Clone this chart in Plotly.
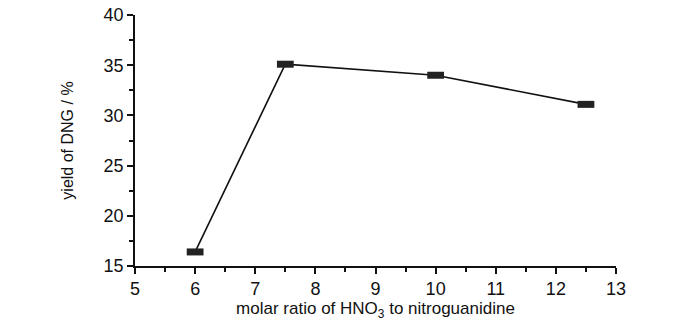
import plotly.graph_objects as go

molar_ratio = [6, 7.5, 10, 12.5]
yield_dng = [16.4, 35.1, 34.0, 31.1]

x_title = "molar ratio of HNO<sub>3</sub> to nitroguanidine"
y_title = "yield of DNG / %"

fig = go.Figure()
fig.add_trace(go.Scatter(
    x=molar_ratio, y=yield_dng, mode="lines",
    line=dict(color="#111111", width=1.6), showlegend=False, hoverinfo="skip"))
fig.add_trace(go.Scatter(
    x=molar_ratio, y=yield_dng, mode="markers",
    marker=dict(symbol="line-ew", size=12, line=dict(color="#222222", width=7)),
    showlegend=False))

font = dict(family="Liberation Sans, Arial, sans-serif", size=17, color="#111111")

fig.update_layout(
    width=700, height=323,
    margin=dict(l=135, r=84, t=15, b=57),
    paper_bgcolor="white", plot_bgcolor="white",
    font=font,
    xaxis=dict(
        range=[5, 13], dtick=1, showgrid=False, zeroline=False, automargin=False,
        showline=True, linecolor="#111111", linewidth=1.5,
        ticks="outside", ticklen=6, tickwidth=1.5, tickcolor="#111111",
        tickfont=dict(size=18),
        minor=dict(dtick=0.5, ticks="outside", ticklen=4, tickwidth=1.5, tickcolor="#111111"),
        title=dict(text=x_title, font=dict(size=17), standoff=3),
    ),
    yaxis=dict(
        range=[15, 40], dtick=5, showgrid=False, zeroline=False, automargin=False,
        showline=True, linecolor="#111111", linewidth=1.5,
        ticks="outside", ticklen=6, tickwidth=1.5, tickcolor="#111111",
        tickfont=dict(size=18),
        minor=dict(dtick=2.5, ticks="outside", ticklen=4, tickwidth=1.5, tickcolor="#111111"),
        title=dict(text=y_title, font=dict(size=16), standoff=26),
    ),
)

fig.write_html("out.html", config={"displayModeBar": False},
               post_script="document.body.style.margin='0';")
